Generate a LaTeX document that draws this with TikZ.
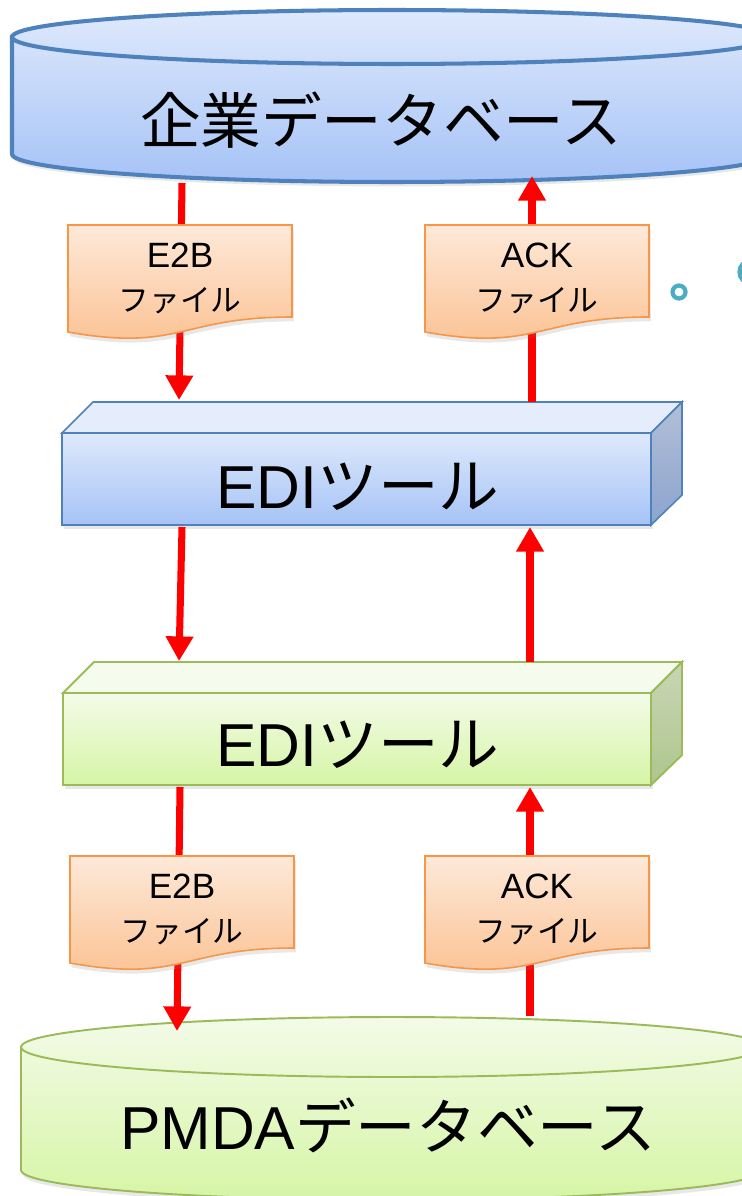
\documentclass[tikz,border=0pt]{standalone}
\usepackage{fontspec}
\setmainfont{Liberation Sans}
\newfontfamily\jpfont{Noto Sans CJK JP}
\usetikzlibrary{arrows.meta}
\usetikzlibrary{shadows}

\definecolor{blueline}{HTML}{4F81BD}
\definecolor{bluetop}{HTML}{DEE9FC}
\definecolor{bluebot}{HTML}{A6C3F6}
\definecolor{blueside}{HTML}{B2BED6}
\definecolor{bluesidebot}{HTML}{8CA4CE}
\definecolor{greenline}{HTML}{9BBB59}
\definecolor{greentop}{HTML}{F3FBE8}
\definecolor{greenbot}{HTML}{D6F5A6}
\definecolor{greenside}{HTML}{C9D5B5}
\definecolor{greensidebot}{HTML}{AEC68D}
\definecolor{docline}{HTML}{F79646}
\definecolor{doctop}{HTML}{FDE9D9}
\definecolor{docbot}{HTML}{FBC08F}
\definecolor{dotteal}{HTML}{4BACC6}

\tikzset{x=0.02cm, y=0.02cm,
 softshadow/.style={drop shadow={opacity=0.18, shadow xshift=1pt, shadow yshift=-2.5pt}},
 bluedb/.style={draw=blueline, line width=2.3pt, top color=bluetop, bottom color=bluebot, softshadow},
 greendb/.style={draw=greenline, line width=1.1pt, top color=greentop, bottom color=greenbot, softshadow},
 bluefront/.style={draw=blueline, line width=0.9pt, top color=bluetop, bottom color=bluebot},
 bluelid/.style={draw=blueline, line width=0.9pt, fill=bluetop!80!white},
 blueright/.style={draw=blueline, line width=0.9pt, top color=blueside, bottom color=bluesidebot},
 greenfront/.style={draw=greenline, line width=1.1pt, top color=greentop, bottom color=greenbot},
 greenlid/.style={draw=greenline, line width=1.1pt, fill=greentop!80!white},
 greenright/.style={draw=greenline, line width=1.1pt, top color=greenside, bottom color=greensidebot},
 docfill/.style={draw=docline, line width=0.9pt, top color=doctop, bottom color=docbot, softshadow},
 flow/.style={draw=red, line width=4pt, -{Triangle[width=15pt,length=14pt]}},
 bigtext/.style={font=\fontsize{34.5pt}{40pt}\selectfont},
 filetext/.style={align=center, font=\fontsize{17.5pt}{25pt}\selectfont},
 ring/.style={draw=dotteal, line width=2.4pt},
}

% orange file sheet: name, left, top, kind
\newcommand{\filedoc}[4]{%
  \begin{scope}[shift={(#2,#3)}]
    \path[docfill] (0,0) -- (224,0) -- (224,-92)
      .. controls (112,-92) and (112,-127) .. (0,-107) -- cycle;
    \node[filetext] (#1) at (112,-53) {{\fontsize{20pt}{25pt}\selectfont #4}\\{\jpfont ファイル}};
  \end{scope}}

\begin{document}
\begin{tikzpicture}
  \useasboundingbox (0,0) rectangle (742,-1196);
  \clip (0,0) rectangle (742,-1196);

  % company database
  \path[bluedb] (12,-37) -- (12,-154)
    arc[start angle=180, end angle=360, x radius=7.6cm, y radius=0.56cm]
    -- (772,-37)
    arc[start angle=0, end angle=180, x radius=7.6cm, y radius=0.54cm] -- cycle;
  \draw[blueline, line width=2.3pt] (12,-37)
    arc[start angle=180, end angle=360, x radius=7.6cm, y radius=0.54cm];
  \node[bigtext] (compdb) at (381,-120) {\jpfont 企業データベース};

  % EDI tool (company side)
  \path[softshadow, fill=white] (62,-433) rectangle (651,-525);
  \path[bluefront] (62,-433) rectangle (651,-525);
  \path[bluelid] (62,-433) -- (93,-402) -- (682,-402) -- (651,-433) -- cycle;
  \path[blueright] (651,-433) -- (682,-402) -- (682,-495) -- (651,-525) -- cycle;
  \node[bigtext] (edicomp) at (358,-487) {EDI{\jpfont ツール}};

  % EDI tool (PMDA side)
  \path[softshadow, fill=white] (63,-693) rectangle (651,-785);
  \path[greenfront] (63,-693) rectangle (651,-785);
  \path[greenlid] (63,-693) -- (94,-662) -- (682,-662) -- (651,-693) -- cycle;
  \path[greenright] (651,-693) -- (682,-662) -- (682,-755) -- (651,-785) -- cycle;
  \node[bigtext] (edipmda) at (358,-745) {EDI{\jpfont ツール}};

  % PMDA database
  \path[greendb] (21,-1047) -- (21,-1170)
    arc[start angle=180, end angle=360, x radius=7.42cm, y radius=0.6cm]
    -- (763,-1047)
    arc[start angle=0, end angle=180, x radius=7.42cm, y radius=0.6cm] -- cycle;
  \draw[greenline, line width=1.1pt] (21,-1047)
    arc[start angle=180, end angle=360, x radius=7.42cm, y radius=0.6cm];
  \node[bigtext] (pmdadb) at (388,-1125) {PMDA{\jpfont データベース}};

  % connector ends
  \coordinate (compdb-out) at (182,-183);
  \coordinate (compdb-in) at (532,-176);
  \coordinate (edicomp-topin) at (179,-400);
  \coordinate (edicomp-topout) at (532,-402);
  \coordinate (edicomp-botout) at (182,-527);
  \coordinate (edicomp-botin) at (530,-527);
  \coordinate (edipmda-topin) at (179,-661);
  \coordinate (edipmda-topout) at (530,-662);
  \coordinate (edipmda-botout) at (180,-787);
  \coordinate (edipmda-botin) at (530,-787);
  \coordinate (pmdadb-in) at (177,-1031);
  \coordinate (pmdadb-out) at (530,-1016);

  \draw[flow] (compdb-out) -- (edicomp-topin);
  \draw[flow] (edicomp-topout) -- (compdb-in);
  \draw[flow] (edicomp-botout) -- (edipmda-topin);
  \draw[flow] (edipmda-topout) -- (edicomp-botin);
  \draw[flow] (edipmda-botout) -- (pmdadb-in);
  \draw[flow] (pmdadb-out) -- (edipmda-botin);

  % file sheets on the arrows
  \filedoc{e2bup}{68}{-225}{E2B}
  \filedoc{ackup}{425}{-225}{ACK}
  \filedoc{e2bdown}{70}{-856}{E2B}
  \filedoc{ackdown}{425}{-856}{ACK}

  % stray bullets
  \draw[ring] (679,-292) circle[radius=0.13cm];
  \draw[ring, line width=3pt] (751,-272) circle[radius=0.22cm];
\end{tikzpicture}
\end{document}
